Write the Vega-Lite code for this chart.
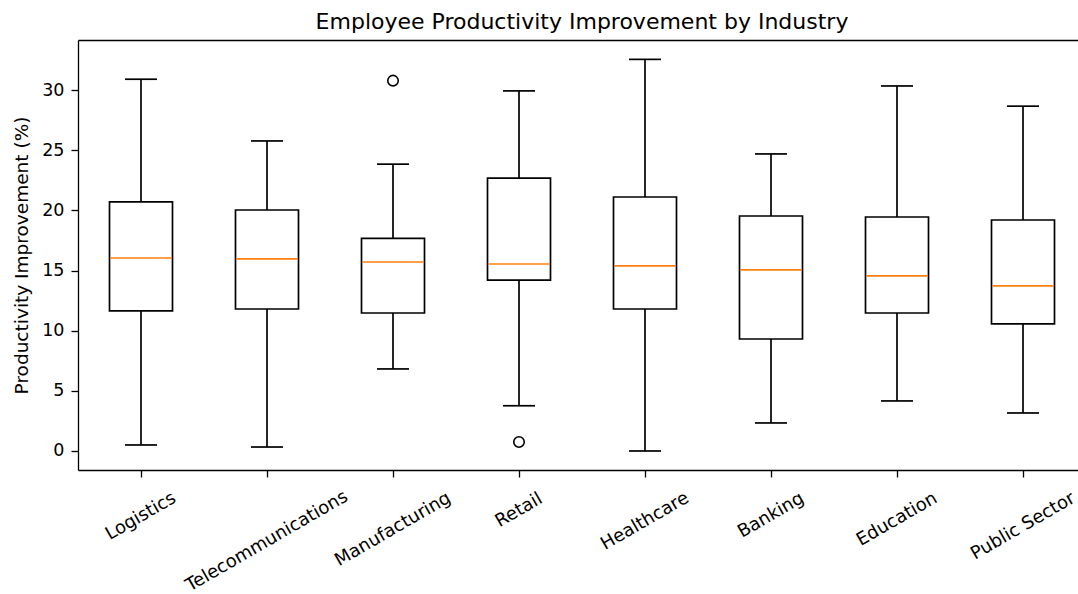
{
  "$schema": "https://vega.github.io/schema/vega-lite/v6.json",
  "width": 1000,
  "height": 430,
  "autosize": {"type": "none"},
  "padding": {"left": 78, "top": 40, "right": 0, "bottom": 124},
  "background": "white",
  "config": {"view": {"stroke": null}, "font": "DejaVu Sans"},
  "title": {
    "text": "Employee Productivity Improvement by Industry",
    "font": "DejaVu Sans",
    "fontSize": 22,
    "fontWeight": "normal",
    "color": "#000000",
    "anchor": "middle",
    "frame": "group",
    "baseline": "alphabetic",
    "offset": 12,
    "dy": 23,
    "dx": 4
  },
  "resolve": {"axis": {"x": "independent", "y": "independent"}},
  "datasets": {
    "boxes": [
      {"industry": "Logistics", "lower": 0.5, "q1": 11.64, "median": 16.04, "q3": 20.7, "upper": 30.9},
      {"industry": "Telecommunications", "lower": 0.33, "q1": 11.8, "median": 15.96, "q3": 20.03, "upper": 25.77},
      {"industry": "Manufacturing", "lower": 6.82, "q1": 11.47, "median": 15.71, "q3": 17.68, "upper": 23.84},
      {"industry": "Retail", "lower": 3.76, "q1": 14.21, "median": 15.54, "q3": 22.68, "upper": 29.93},
      {"industry": "Healthcare", "lower": 0.0, "q1": 11.8, "median": 15.38, "q3": 21.11, "upper": 32.55},
      {"industry": "Banking", "lower": 2.33, "q1": 9.31, "median": 15.05, "q3": 19.53, "upper": 24.69},
      {"industry": "Education", "lower": 4.16, "q1": 11.47, "median": 14.55, "q3": 19.45, "upper": 30.34},
      {"industry": "Public Sector", "lower": 3.16, "q1": 10.56, "median": 13.72, "q3": 19.2, "upper": 28.66}
    ],
    "outliers": [
      {"industry": "Manufacturing", "value": 30.78},
      {"industry": "Retail", "value": 0.75}
    ]
  },
  "layer": [
    {
      "data": {"name": "boxes"},
      "mark": {"type": "rule", "color": "#000000", "strokeWidth": 1.7},
      "encoding": {
        "x": {
          "field": "industry", "type": "nominal", "sort": null,
          "scale": {"domain": ["Logistics", "Telecommunications", "Manufacturing", "Retail", "Healthcare", "Banking", "Education", "Public Sector"], "range": [0, 1008], "paddingInner": 0, "paddingOuter": 0},
          "axis": {
            "orient": "bottom", "title": null, "grid": false,
            "domainColor": "#000000", "domainWidth": 1.3,
            "tickColor": "#000000", "tickWidth": 1.3, "tickSize": 7,
            "labelFont": "DejaVu Sans", "labelFontSize": 18, "labelColor": "#000000",
            "labelAngle": -30, "labelAlign": "center", "labelBaseline": "middle",
            "labelLimit": 0, "labelOverlap": false, "labelBound": false,
            "labelPadding": {
              "condition": [
                {"test": "datum.value == 'Telecommunications'", "value": 64},
                {"test": "datum.value == 'Manufacturing'", "value": 52},
                {"test": "datum.value == 'Retail'", "value": 33},
                {"test": "datum.value == 'Healthcare'", "value": 44},
                {"test": "datum.value == 'Banking'", "value": 38},
                {"test": "datum.value == 'Education'", "value": 42},
                {"test": "datum.value == 'Public Sector'", "value": 49}
              ],
              "value": 39
            }
          }
        },
        "y": {
          "field": "lower", "type": "quantitative",
          "scale": {"domain": [-1.58, 34.16], "nice": false, "zero": false},
          "axis": {
            "title": "Productivity Improvement (%)", "titleFont": "DejaVu Sans", "titleFontSize": 18.5,
            "titleFontWeight": "normal", "titleColor": "#000000", "titlePadding": 10,
            "values": [0, 5, 10, 15, 20, 25, 30], "grid": false,
            "domainColor": "#000000", "domainWidth": 1.3,
            "tickColor": "#000000", "tickWidth": 1.3, "tickSize": 7,
            "labelFont": "DejaVu Sans", "labelFontSize": 17.5, "labelColor": "#000000", "labelPadding": 7
          }
        },
        "y2": {"field": "q1"}
      }
    },
    {
      "data": {"name": "boxes"},
      "mark": {"type": "rule", "color": "#000000", "strokeWidth": 1.7},
      "encoding": {
        "x": {"field": "industry", "type": "nominal", "sort": null, "axis": null},
        "y": {"field": "q3", "type": "quantitative", "axis": null},
        "y2": {"field": "upper"}
      }
    },
    {
      "data": {"name": "boxes"},
      "mark": {"type": "tick", "color": "#000000", "thickness": 1.7, "size": 32, "opacity": 1},
      "encoding": {
        "x": {"field": "industry", "type": "nominal", "sort": null, "axis": null},
        "y": {"field": "lower", "type": "quantitative", "axis": null}
      }
    },
    {
      "data": {"name": "boxes"},
      "mark": {"type": "tick", "color": "#000000", "thickness": 1.7, "size": 32, "opacity": 1},
      "encoding": {
        "x": {"field": "industry", "type": "nominal", "sort": null, "axis": null},
        "y": {"field": "upper", "type": "quantitative", "axis": null}
      }
    },
    {
      "data": {"name": "boxes"},
      "mark": {"type": "bar", "fill": "#ffffff", "fillOpacity": 0, "stroke": "#000000", "strokeWidth": 1.7, "width": 63},
      "encoding": {
        "x": {"field": "industry", "type": "nominal", "sort": null, "axis": null},
        "y": {"field": "q1", "type": "quantitative", "axis": null},
        "y2": {"field": "q3"}
      }
    },
    {
      "data": {"name": "boxes"},
      "mark": {"type": "tick", "color": "#ff7f0e", "thickness": 1.7, "size": 62, "opacity": 1},
      "encoding": {
        "x": {"field": "industry", "type": "nominal", "sort": null, "axis": null},
        "y": {"field": "median", "type": "quantitative", "axis": null}
      }
    },
    {
      "data": {"name": "outliers"},
      "mark": {"type": "point", "shape": "circle", "filled": false, "stroke": "#000000", "strokeWidth": 1.6, "size": 110, "opacity": 1},
      "encoding": {
        "x": {
          "field": "industry", "type": "nominal", "sort": null,
          "axis": {"orient": "top", "labels": false, "ticks": false, "title": null, "grid": false, "domain": true, "domainColor": "#000000", "domainWidth": 1.3}
        },
        "y": {"field": "value", "type": "quantitative", "axis": null}
      }
    }
  ]
}
